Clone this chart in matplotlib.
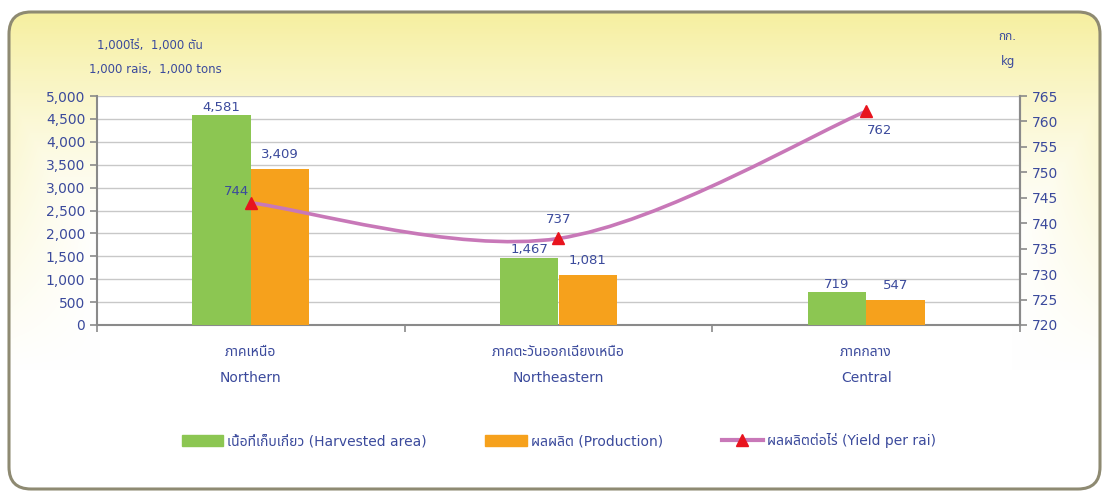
import matplotlib
matplotlib.use("Agg")
import matplotlib.pyplot as plt
import numpy as np
from matplotlib import font_manager
from matplotlib.patches import FancyBboxPatch, PathPatch, Patch
from matplotlib.path import Path
from matplotlib.lines import Line2D
from matplotlib.ticker import FuncFormatter, MultipleLocator

regions_th = ["ภาคเหนือ", "ภาคตะวันออกเฉียงเหนือ", "ภาคกลาง"]
regions_en = ["Northern", "Northeastern", "Central"]
harvested = [4581, 1467, 719]        # 1,000 rai
production = [3409, 1081, 547]       # 1,000 tons
yield_per_rai = [744, 737, 762]      # kg
series_names = ["เนื้อที่เก็บเกี่ยว (Harvested area)",
                "ผลผลิต (Production)",
                "ผลผลิตต่อไร่ (Yield per rai)"]

GREEN, ORANGE, PINK, RED = "#8cc652", "#f6a11c", "#c878b8", "#e8141e"
BLUE = "#3b4a9c"

# pick a Thai-capable family (DejaVu has no Thai glyphs)
installed = {f.name for f in font_manager.fontManager.ttflist}
th = next((n for n in ["Noto Sans Thai", "Sarabun", "IBM Plex Sans Thai",
                       "Bai Jamjuree", "Maitree"] if n in installed), None)
plt.rcParams["font.family"] = ["DejaVu Sans"] + ([th] if th else [])

W, H = 1109, 491
fig = plt.figure(figsize=(W / 100, H / 100), dpi=100)

# --- rounded yellow frame --------------------------------------------
bg = fig.add_axes([0, 0, 1, 1], zorder=-10)
bg.set_xlim(0, W)
bg.set_ylim(0, H)
bg.axis("off")
yy, xx = np.mgrid[0:H, 0:W]
top = np.clip((yy - 250) / 230.0, 0, 1) ** 1.3          # 1 at top
side = np.clip(1 - np.minimum(xx - 10, W - 8 - xx) / 90.0, 0, 1) * \
    np.clip((yy - 120) / 300.0, 0, 1)
k = np.maximum(top, side * 0.6)
c0 = np.array([1.0, 1.0, 1.0])
c1 = np.array([0.965, 0.937, 0.62])
img = c0 + (c1 - c0) * k[..., None]
im = bg.imshow(img, extent=(0, W, 0, H), origin="lower", aspect="auto")
frame = FancyBboxPatch((9, 2), W - 18, H - 14,
                       boxstyle="round,pad=0,rounding_size=22",
                       fc="none", ec="#8e8a72", lw=2.2)
bg.add_patch(frame)
im.set_clip_path(frame)

# --- main axes -----------------------------------------------------------
ax = fig.add_axes([97 / W, 1 - 325 / H, (1020 - 97) / W, (325 - 96) / H])
ax.set_facecolor("white")
x = np.arange(len(regions_en))
bw = 0.19
b1 = ax.bar(x - bw / 2, harvested, bw, color=GREEN, zorder=3)
b2 = ax.bar(x + bw / 2, production, bw, color=ORANGE, zorder=3)
ax.bar_label(b1, labels=[f"{v:,}" for v in harvested], padding=1,
             color=BLUE, fontsize=9.5)
ax.bar_label(b2, labels=[f"{v:,}" for v in production], padding=6,
             color=BLUE, fontsize=9.5)

ax.set_xlim(-0.5, len(regions_en) - 0.5)
ax.set_ylim(0, 5000)
ax.yaxis.set_major_locator(MultipleLocator(500))
ax.yaxis.set_major_formatter(FuncFormatter(lambda v, _: f"{v:,.0f}"))
ax.set_xticks(np.arange(-0.5, len(regions_en)))
ax.set_xticklabels([])
ax.grid(axis="y", color="#c8c8c8", lw=1, zorder=0)
ax.spines["top"].set_visible(False)
for s in ("left", "bottom", "right"):
    ax.spines[s].set_color("#8a8a8a")
    ax.spines[s].set_linewidth(1.5)
ax.tick_params(axis="y", colors="#8a8a8a", labelcolor=BLUE, labelsize=10,
               length=5, width=1.2)
ax.tick_params(axis="x", colors="#8a8a8a", length=5, width=1.2)
for i in x:
    ax.text(i, -0.118, regions_th[i], transform=ax.get_xaxis_transform(),
            ha="center", va="center", color=BLUE, fontsize=10)
    ax.text(i, -0.231, regions_en[i], transform=ax.get_xaxis_transform(),
            ha="center", va="center", color=BLUE, fontsize=10)

# --- yield line on right axis ------------------------------------------------
ax2 = ax.twinx()
ax2.set_ylim(720, 765)
ax2.yaxis.set_major_locator(MultipleLocator(5))
ax2.tick_params(axis="y", colors="#8a8a8a", labelcolor=BLUE, labelsize=10,
                length=5, width=1.2)
for s in ("top", "left", "bottom"):
    ax2.spines[s].set_visible(False)
ax2.spines["right"].set_color("#8a8a8a")
ax2.spines["right"].set_linewidth(1.5)

# smoothed line through the points (Catmull-Rom style bezier, like Excel)
pts = np.column_stack([x, yield_per_rai]).astype(float)
ext = np.vstack([pts[0], pts, pts[-1]])
verts, codes = [pts[0]], [Path.MOVETO]
for i in range(len(pts) - 1):
    p0, p1, p2, p3 = ext[i], ext[i + 1], ext[i + 2], ext[i + 3]
    verts += [p1 + (p2 - p0) / 6, p2 - (p3 - p1) / 6, p2]
    codes += [Path.CURVE4] * 3
ax2.add_patch(PathPatch(Path(verts, codes), fc="none", ec=PINK, lw=2.6,
                        zorder=4))
ax2.plot(x, yield_per_rai, ls="none", marker="^", ms=8, color=RED, zorder=5)
label_offsets = [(-10, 8), (0, 14), (10, -14)]
for xi, yi, off in zip(x, yield_per_rai, label_offsets):
    ax2.annotate(f"{yi}", (xi, yi), xytext=off, textcoords="offset points",
                 ha="center", va="center", color=BLUE, fontsize=9.5)

# --- unit captions ------------------------------------------------------
fig.text(150 / W, 1 - 45 / H, "1,000ไร่,  1,000 ตัน", ha="center",
         va="center", color=BLUE, fontsize=8.5)
fig.text(155 / W, 1 - 70 / H, "1,000 rais,  1,000 tons", ha="center",
         va="center", color=BLUE, fontsize=8.5)
fig.text(1007 / W, 1 - 37 / H, "กก.", ha="center", va="center", color=BLUE,
         fontsize=8.5)
fig.text(1008 / W, 1 - 62 / H, "kg", ha="center", va="center", color=BLUE,
         fontsize=8.5)

# --- legend --------------------------------------------------------------
handles = [Patch(color=GREEN), Patch(color=ORANGE),
           Line2D([], [], color=PINK, lw=3, marker="^", ms=8,
                  markerfacecolor=RED, markeredgecolor=RED)]
fig.legend(handles, series_names, loc="center",
           bbox_to_anchor=(559 / W, 1 - 441 / H),
           ncol=3, frameon=False, fontsize=10, labelcolor=BLUE,
           handlelength=3.0, handleheight=0.9, handletextpad=0.3,
           columnspacing=4.2)

fig.savefig("out.png", dpi=100)
